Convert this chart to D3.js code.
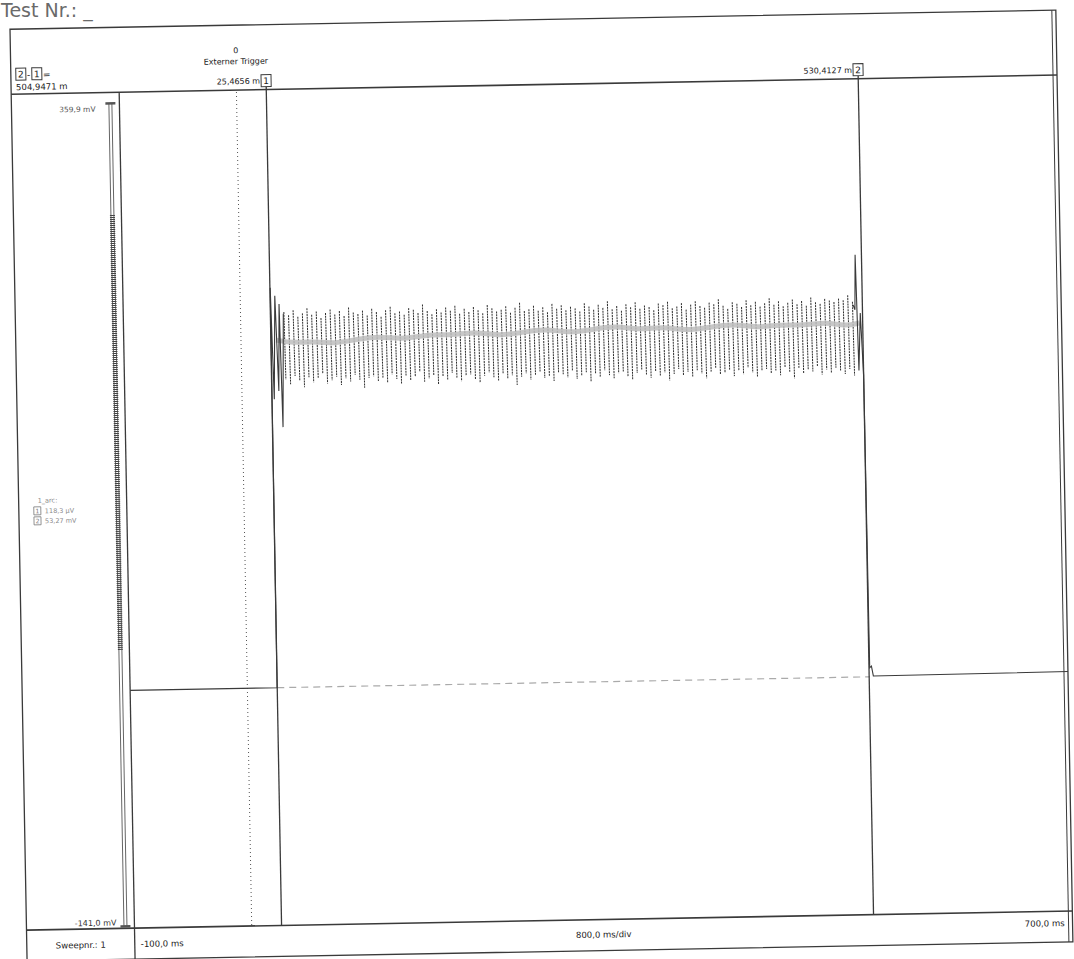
<!DOCTYPE html>
<html>
<head>
<meta charset="utf-8">
<script src="https://cdn.jsdelivr.net/npm/d3@7"></script>
<style>
body{margin:0;background:#fff;}
</style>
</head>
<body>
<div id="container"></div>
<script>
let w = 1074;
let h = 959;

// scope settings
let timeRange = [-100, 700];      // ms
let voltRange = [-141.0, 359.9];  // mV
let triggerTime = 0;
let cursorTimes = [25.4656, 530.4127];
let cursorLabels = ["25,4656 m", "530,4127 m"];
let deltaLabel = "504,9471 m";
let legendTitle = "1_arc:";
let legendVals = ["118,3 µV", "53,27 mV"];
let scaleLabels = ["359,9 mV", "-141,0 mV"];
let footerLabels = ["Sweepnr.: 1", "-100,0 ms", "800,0 ms/div", "700,0 ms"];
let scaleMark = [27, 292];

// trace: switch on / switch off parts [ms, mV]
let onEdge = [[-100, 2.5], [25.4, 2.5], [25.7, 246], [27.5, 178], [29.5, 241], [31.5, 183], [33, 236], [34.5, 161], [36.5, 230]];
let offEdge = [[522.5, 229], [524, 226], [525, 259.5], [526.5, 189], [528.5, 224], [530.4, 186], [531, 8], [532.5, 9], [534, 3], [700, 3.5]];

// ripple between the cursors, one max/min per cycle
let rippleSpan = [37, 522];
let rippleHi = [
  231,229,232,228,230,233,229,231,227,230,232,229,231,228,233,230,229,231,228,232,
  230,227,231,233,229,230,228,232,231,229,234,230,228,231,229,232,230,233,228,231,
  229,232,230,228,233,231,229,230,232,228,231,234,229,230,232,229,231,228,233,230,
  232,229,231,230,228,233,231,229,232,230,234,229,231,228,232,230,233,229,231,230,
  228,232,231,233,229,230,232,228,231,233,230,229,232,231,234,230,228,232,231,229,
  233,230,232,229,231,234,230,232,229,231,233,230,232,229,234,231,230,233,232,231,
  233,232,235,231
];
let rippleLo = [
  190,187,192,189,185,191,188,190,193,187,189,191,186,190,188,192,189,184,190,191,
  188,190,187,192,189,186,191,188,190,193,187,189,191,185,190,188,192,189,187,190,
  191,188,186,190,192,189,187,191,188,190,184,189,191,187,190,192,188,189,186,191,
  190,188,192,187,189,191,185,190,188,192,189,187,190,191,188,186,190,192,189,187,
  191,188,190,185,189,192,188,190,187,191,189,186,190,192,188,189,191,187,190,188,
  192,189,186,190,191,188,190,187,192,189,185,191,188,190,189,192,187,190,188,191,
  189,187,190,186
];

// grey averaged trace
let bandT = [30, 45, 60, 80, 100, 120, 140, 160, 180, 200, 220, 240, 260, 280, 300, 320, 340, 360, 380, 400, 420, 440, 460, 480, 500, 515, 528];
let bandV = [214, 212, 213, 211, 214, 215, 213, 216, 215, 217, 214, 216, 218, 215, 217, 219, 216, 218, 215, 217, 219, 216, 218, 217, 219, 216, 218];
let zeroLine = [[25.5, 2.5], [531, 2.5]];

let W = 1046, H = 932;
let headY = 65, footY = 901, divX = 108;
let ink = "#3a3a3a";

let viz = d3.select("#container").append("svg")
  .attr("width", w)
  .attr("height", h)
  .style("font-family", "DejaVu Sans");

viz.append("text")
  .text("Test Nr.: _")
  .attr("x", 1)
  .attr("y", 17)
  .attr("font-size", 19)
  .attr("fill", "#6a6a6a");

let g = viz.append("g")
  .attr("transform", "translate(10,29.25) rotate(-1.05)");

let x = d3.scaleLinear().domain(timeRange).range([divX, W]);
let y = d3.scaleLinear().domain(voltRange).range([899, 76]);

// frame
g.append("rect")
  .attr("x", 0).attr("y", 0).attr("width", W).attr("height", H)
  .attr("fill", "none").attr("stroke", ink).attr("stroke-width", 1.3);
g.append("line")
  .attr("x1", W - 4).attr("x2", W - 4).attr("y1", 0).attr("y2", H)
  .attr("stroke", ink).attr("stroke-width", 1);
g.append("line")
  .attr("x1", 0).attr("x2", W).attr("y1", headY).attr("y2", headY)
  .attr("stroke", ink).attr("stroke-width", 1.6);
g.append("line")
  .attr("x1", 0).attr("x2", W).attr("y1", footY).attr("y2", footY)
  .attr("stroke", ink).attr("stroke-width", 1.6);
g.append("line")
  .attr("x1", divX).attr("x2", divX).attr("y1", headY).attr("y2", H)
  .attr("stroke", ink).attr("stroke-width", 1.3);

function box(par, cx, cy, label) {
  par.append("rect")
    .attr("x", cx - 5).attr("y", cy - 6).attr("width", 10).attr("height", 12)
    .attr("fill", "#fff").attr("stroke", ink).attr("stroke-width", 1);
  par.append("text")
    .text(label)
    .attr("x", cx).attr("y", cy + 3.5)
    .attr("text-anchor", "middle")
    .attr("font-size", 9)
    .attr("fill", "#222");
}

// delta readout top left
box(g, 10, 45, "2");
g.append("text").text("-").attr("x", 16).attr("y", 49).attr("font-size", 9).attr("fill", "#222");
box(g, 26, 45, "1");
g.append("text").text("=").attr("x", 32).attr("y", 49).attr("font-size", 9).attr("fill", "#222");
g.append("text")
  .text(deltaLabel)
  .attr("x", 5).attr("y", 61)
  .attr("font-size", 8.5)
  .attr("fill", "#222");

// trigger
g.append("line")
  .attr("x1", x(triggerTime)).attr("x2", x(triggerTime))
  .attr("y1", headY + 2).attr("y2", footY)
  .attr("stroke", "#555").attr("stroke-width", 1)
  .attr("stroke-dasharray", "1,3");
g.append("text")
  .text("0")
  .attr("x", x(triggerTime)).attr("y", 28)
  .attr("text-anchor", "middle").attr("font-size", 8).attr("fill", "#222");
g.append("text")
  .text("Externer Trigger")
  .attr("x", x(triggerTime)).attr("y", 39)
  .attr("text-anchor", "middle").attr("font-size", 8).attr("fill", "#222");

// scale bar
let sx = 99;
g.append("rect")
  .attr("x", sx - 1.5).attr("y", y(voltRange[1])).attr("width", 3)
  .attr("height", y(voltRange[0]) - y(voltRange[1]))
  .attr("fill", "none").attr("stroke", "#555").attr("stroke-width", 0.9);
g.append("line")
  .attr("x1", sx).attr("x2", sx)
  .attr("y1", y(scaleMark[1])).attr("y2", y(scaleMark[0]))
  .attr("stroke", "#444").attr("stroke-width", 5)
  .attr("stroke-dasharray", "1,1");
[voltRange[1], voltRange[0]].forEach(v => {
  g.append("line")
    .attr("x1", sx - 5).attr("x2", sx + 5)
    .attr("y1", y(v)).attr("y2", y(v))
    .attr("stroke", "#555").attr("stroke-width", 2.5);
});
g.append("text")
  .text(scaleLabels[0])
  .attr("x", 84).attr("y", y(voltRange[1]) + 8)
  .attr("text-anchor", "end").attr("font-size", 7.5).attr("fill", "#555");
g.append("text")
  .text(scaleLabels[1])
  .attr("x", 90).attr("y", y(voltRange[0]) - 1)
  .attr("text-anchor", "end").attr("font-size", 8).attr("fill", "#333");

// legend in the side panel
g.append("text")
  .text(legendTitle)
  .attr("x", 19).attr("y", 474)
  .attr("font-size", 6.5).attr("fill", "#888");
legendVals.forEach((v, i) => {
  let cy = 482 + i * 10;
  g.append("rect")
    .attr("x", 15).attr("y", cy - 4).attr("width", 7).attr("height", 8)
    .attr("fill", "none").attr("stroke", "#777").attr("stroke-width", 0.8);
  g.append("text").text(String(i + 1))
    .attr("x", 18.5).attr("y", cy + 2.5).attr("text-anchor", "middle")
    .attr("font-size", 6).attr("fill", "#777");
  g.append("text").text(v)
    .attr("x", 26).attr("y", cy + 2.5)
    .attr("font-size", 6.5).attr("fill", "#888");
});

// footer
g.append("text").text(footerLabels[0])
  .attr("x", divX / 2).attr("y", 920).attr("text-anchor", "middle")
  .attr("font-size", 8.5).attr("fill", "#222");
g.append("text").text(footerLabels[1])
  .attr("x", divX + 6).attr("y", 920)
  .attr("font-size", 8.5).attr("fill", "#222");
g.append("text").text(footerLabels[2])
  .attr("x", (divX + W) / 2).attr("y", 919).attr("text-anchor", "middle")
  .attr("font-size", 8.5).attr("fill", "#222");
g.append("text").text(footerLabels[3])
  .attr("x", W - 8).attr("y", 916).attr("text-anchor", "end")
  .attr("font-size", 8.5).attr("fill", "#222");

// grey zero reference between the cursors
let line = d3.line().x(d => x(d[0])).y(d => y(d[1]));
g.append("path")
  .attr("d", line(zeroLine))
  .attr("fill", "none").attr("stroke", "#aaa").attr("stroke-width", 1.2)
  .attr("stroke-dasharray", "7,5");

// ripple
let cyc = d3.scaleLinear().domain([0, rippleHi.length - 1]).range(rippleSpan);
g.append("g")
  .selectAll("line")
  .data(rippleHi)
  .join("line")
  .attr("x1", (d, i) => x(cyc(i)))
  .attr("x2", (d, i) => x(cyc(i)) + 0.8)
  .attr("y1", d => y(d))
  .attr("y2", (d, i) => y(rippleLo[i]))
  .attr("stroke", "#2e2e2e")
  .attr("stroke-width", 1)
  .attr("stroke-dasharray", "2,0.8");

// averaged grey trace
let band = d3.range(bandT.length).map(i => [bandT[i], bandV[i]]);
g.append("path")
  .attr("d", d3.line().x(d => x(d[0])).y(d => y(d[1])).curve(d3.curveBasis)(band))
  .attr("fill", "none")
  .attr("stroke", "#bdbdbd")
  .attr("stroke-width", 5)
  .attr("opacity", 0.85);

// on / off edges
[onEdge, offEdge].forEach(seg => {
  g.append("path")
    .attr("d", line(seg))
    .attr("fill", "none")
    .attr("stroke", ink)
    .attr("stroke-width", 1.1);
});

// cursors
cursorTimes.forEach((t, i) => {
  g.append("line")
    .attr("x1", x(t)).attr("x2", x(t))
    .attr("y1", 62).attr("y2", footY)
    .attr("stroke", ink).attr("stroke-width", 1.3);
  box(g, x(t), 56, String(i + 1));
  g.append("text")
    .text(cursorLabels[i])
    .attr("x", x(t) - 6).attr("y", 59)
    .attr("text-anchor", "end")
    .attr("font-size", 8)
    .attr("fill", "#222");
});
</script>
</body>
</html>
